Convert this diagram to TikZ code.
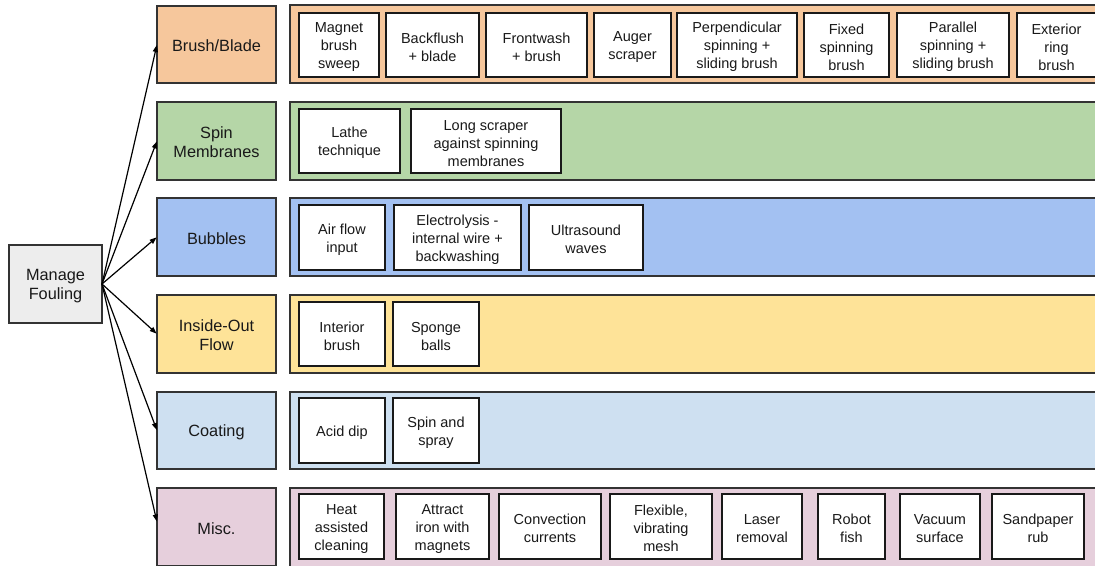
\documentclass[tikz,border=0pt]{standalone}
\usepackage{fontspec}
\setmainfont{Liberation Sans}
\usetikzlibrary{arrows.meta}
\definecolor{corange}{HTML}{F6C79C}
\definecolor{cgreen}{HTML}{B5D6A7}
\definecolor{cblue}{HTML}{A3C1F2}
\definecolor{cyellow}{HTML}{FEE398}
\definecolor{clblue}{HTML}{CEE0F1}
\definecolor{cpink}{HTML}{E6CFDC}
\definecolor{cgray}{HTML}{EDEDED}
\definecolor{cline}{HTML}{333333}
\newcommand{\mkbox}[7]{% style, name, x1, x2, y1, y2, text
  \pgfmathsetmacro\mycx{(#3+#4)/2}\pgfmathsetmacro\mycy{(#5+#6)/2}%
  \pgfmathsetmacro\myw{#4-#3}\pgfmathsetmacro\myh{#6-#5}%
  \node[#1, minimum width=\myw pt, minimum height=\myh pt] (#2) at (\mycx,\mycy) {\rule{0pt}{14.4pt}#7};}
\begin{document}
\begin{tikzpicture}[x=1pt,y=-1pt,
  base/.style={rectangle, inner sep=0pt, outer sep=0pt, align=center, text=black!90,
    font=\fontsize{14.5}{18}\selectfont},
  catbox/.style={base, draw=cline, line width=1.3pt, font=\fontsize{16.3}{19}\selectfont},
  bandbox/.style={base, draw=cline, line width=1.3pt},
  itembox/.style={base, draw=black!90, fill=white, line width=1.3pt},
  conn/.style={line width=1.2pt, black, -{Triangle[length=7pt,width=5pt]}, shorten >=0.5pt},
]
\clip (0,0) rectangle (1095,565);
\fill[white] (0,0) rectangle (1095,565);

% root
\mkbox{catbox, fill=cgray}{mf}{9}{102}{245}{323}{Manage\\Fouling}

% categories
\mkbox{catbox, fill=corange}{c1}{157}{276}{6}{83}{Brush/Blade}
\mkbox{catbox, fill=cgreen}{c2}{157}{276}{102}{180}{Spin\\Membranes}
\mkbox{catbox, fill=cblue}{c3}{157}{276}{198}{276}{Bubbles}
\mkbox{catbox, fill=cyellow}{c4}{157}{276}{295}{373}{Inside-Out\\Flow}
\mkbox{catbox, fill=clblue}{c5}{157}{276}{392}{469}{Coating}
\mkbox{catbox, fill=cpink}{c6}{157}{276}{488}{566}{Misc.}

% bands
\mkbox{bandbox, fill=corange}{b1}{290}{1105}{5}{83}{}
\mkbox{bandbox, fill=cgreen}{b2}{290}{1105}{102}{180}{}
\mkbox{bandbox, fill=cblue}{b3}{290}{1105}{198}{276}{}
\mkbox{bandbox, fill=cyellow}{b4}{290}{1105}{295}{373}{}
\mkbox{bandbox, fill=clblue}{b5}{290}{1105}{392}{469}{}
\mkbox{bandbox, fill=cpink}{b6}{290}{1105}{488}{572}{}

% row 1
\mkbox{itembox}{i11}{299}{379}{13}{77}{Magnet\\brush\\sweep}
\mkbox{itembox}{i12}{386}{479}{13}{77}{Backflush\\+ blade}
\mkbox{itembox}{i13}{486}{587}{13}{77}{Frontwash\\+ brush}
\mkbox{itembox}{i14}{594}{671}{13}{77}{Auger\\scraper}
\mkbox{itembox}{i15}{677}{797}{13}{77}{Perpendicular\\spinning +\\sliding brush}
\mkbox{itembox}{i16}{804}{889}{13}{77}{Fixed\\spinning\\brush}
\mkbox{itembox}{i17}{897}{1009}{13}{77}{Parallel\\spinning +\\sliding brush}
\mkbox{itembox}{i18}{1017}{1096}{13}{77}{Exterior\\ring\\brush}

% row 2
\mkbox{itembox}{i21}{299}{400}{109}{173}{Lathe\\technique}
\mkbox{itembox}{i22}{411}{561}{109}{173}{Long scraper\\against spinning\\membranes}

% row 3
\mkbox{itembox}{i31}{299}{385}{205}{270}{Air flow\\input}
\mkbox{itembox}{i32}{394}{521}{205}{270}{Electrolysis -\\internal wire +\\backwashing}
\mkbox{itembox}{i33}{529}{643}{205}{270}{Ultrasound\\waves}

% row 4
\mkbox{itembox}{i41}{299}{385}{302}{366}{Interior\\brush}
\mkbox{itembox}{i42}{393}{479}{302}{366}{Sponge\\balls}

% row 5
\mkbox{itembox}{i51}{299}{385}{398}{463}{Acid dip}
\mkbox{itembox}{i52}{393}{479}{398}{463}{Spin and\\spray}

% row 6
\mkbox{itembox}{i61}{299}{384}{494}{559}{Heat\\assisted\\cleaning}
\mkbox{itembox}{i62}{396}{489}{494}{559}{Attract\\iron with\\magnets}
\mkbox{itembox}{i63}{499}{601}{494}{559}{Convection\\currents}
\mkbox{itembox}{i64}{610}{712}{494}{559}{Flexible,\\vibrating\\mesh}
\mkbox{itembox}{i65}{722}{802}{494}{559}{Laser\\removal}
\mkbox{itembox}{i66}{818}{885}{494}{559}{Robot\\fish}
\mkbox{itembox}{i67}{900}{980}{494}{559}{Vacuum\\surface}
\mkbox{itembox}{i68}{992}{1084}{494}{559}{Sandpaper\\rub}

% connectors
\foreach \c in {c1,c2,c3,c4,c5}
  \draw[conn] (mf.east) -- (\c.west);
\draw[conn] (mf.east) -- ([yshift=5pt]c6.west);
\end{tikzpicture}
\end{document}
